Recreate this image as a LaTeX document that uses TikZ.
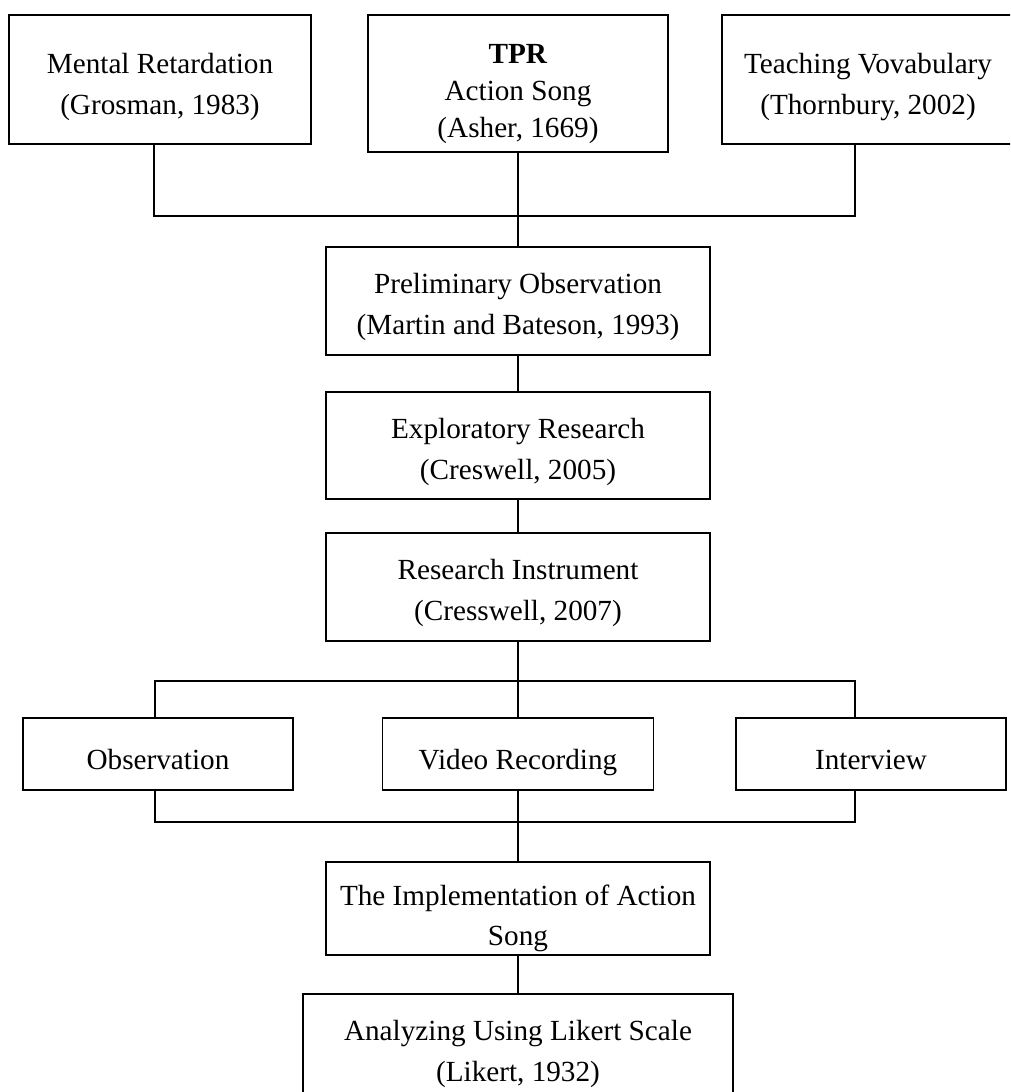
\documentclass[tikz,border=0pt]{standalone}
\usepackage{fontspec}
\setmainfont{Liberation Serif}

\begin{document}
\begin{tikzpicture}[x=1pt,y=-1pt,
  box/.style={draw,line width=1.8pt,align=center,inner sep=0pt,text depth=0pt,text height=67pt,font=\fontsize{29.2}{41}\selectfont},
  single/.style={box,minimum height=72,text height=30pt},
  link/.style={line width=1.4pt}]
  \useasboundingbox (0,0) rectangle (1010,1092);
  \clip (0,0) rectangle (1010,1092);
  % theories
  \node[box,minimum width=302,minimum height=129,text height=69pt] (ment) at (160,79.5) {Mental Retardation\\(Grosman, 1983)};
  \node[box,minimum width=300,minimum height=137,text height=107pt,font=\fontsize{29.2}{37}\selectfont] (tpr) at (518,83.5) {\textbf{TPR}\\Action Song\\(Asher, 1669)};
  \node[box,minimum width=292,minimum height=129,text height=69pt] (teach) at (868,79.5) {Teaching Vovabulary\\(Thornbury, 2002)};
  % method
  \node[box,minimum width=384,minimum height=108] (prelim) at (518,301) {Preliminary Observation\\(Martin and Bateson, 1993)};
  \node[box,minimum width=384,minimum height=107] (explor) at (518,445.5) {Exploratory Research\\(Creswell, 2005)};
  \node[box,minimum width=384,minimum height=108] (instr) at (518,587) {Research Instrument\\(Cresswell, 2007)};
  % instruments
  \node[single,minimum width=270] (obs) at (158,754) {Observation};
  \node[single,minimum width=271] (video) at (518,754) {Video Recording};
  \node[single,minimum width=270] (interv) at (871,754) {Interview};
  % result
  \node[box,minimum width=384,minimum height=93,text height=74pt,font=\fontsize{29.2}{40}\selectfont] (impl) at (518,908.5) {The Implementation of Action\\Song};
  \node[box,minimum width=430,minimum height=105,text height=70pt] (analyz) at (518,1046.5) {Analyzing Using Likert Scale\\(Likert, 1932)};
  \coordinate (topL) at (154,216); \coordinate (topR) at (855,216);
  \coordinate (midL) at (155,681); \coordinate (midR) at (855,681);
  \coordinate (lowL) at (155,822); \coordinate (lowR) at (855,822);
  \draw[link] (ment.south -| topL) -- (topL) -- (topR) -- (teach.south -| topR);
  \draw[link] (tpr.south) -- (prelim.north); \draw[link] (prelim.south) -- (explor.north); \draw[link] (explor.south) -- (instr.north);
  \draw[link] (instr.south) -- (video.north); \draw[link] (obs.north -| midL) -- (midL) -- (midR) -- (interv.north -| midR);
  \draw[link] (obs.south -| lowL) -- (lowL) -- (lowR) -- (interv.south -| lowR);
  \draw[link] (video.south) -- (impl.north); \draw[link] (impl.south) -- (analyz.north);
\end{tikzpicture}
\end{document}
